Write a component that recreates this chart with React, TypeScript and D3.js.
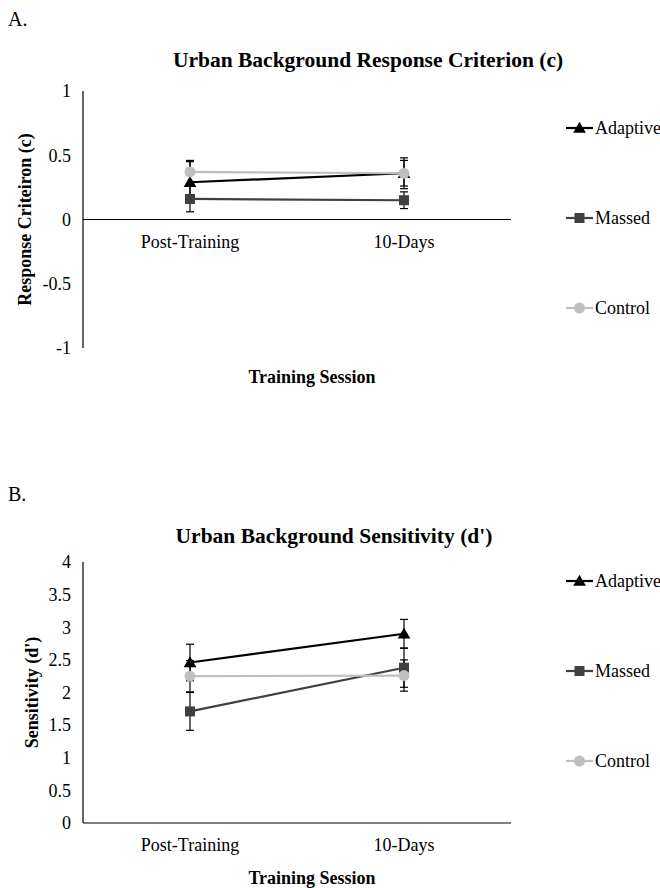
import React from "react";
import * as d3 from "d3";

const sessions = ["Post-Training", "10-Days"];
const seriesNames = ["Adaptive", "Massed", "Control"];
const seriesColors = ["#000000", "#404040", "#bfbfbf"];
const seriesShapes = ["triangle", "square", "circle"];

// Panel A: response criterion
const criterionAdaptive = [0.29, 0.36];
const criterionMassed = [0.16, 0.15];
const criterionControl = [0.37, 0.36];
const criterionAdaptiveErr = [0.16, 0.12];
const criterionMassedErr = [0.1, 0.065];
const criterionControlErr = [0.09, 0.1];
const criterionTicks = [-1, -0.5, 0, 0.5, 1];

// Panel B: sensitivity
const sensAdaptive = [2.46, 2.9];
const sensMassed = [1.71, 2.38];
const sensControl = [2.25, 2.26];
const sensAdaptiveErr = [0.28, 0.22];
const sensMassedErr = [0.29, 0.3];
const sensControlErr = [0.24, 0.24];
const sensTicks = [0, 0.5, 1, 1.5, 2, 2.5, 3, 3.5, 4];

const FONT = "'Liberation Serif', 'Times New Roman', serif";

function Marker({ shape, x, y, color }: { shape: string; x: number; y: number; color: string }) {
  if (shape === "triangle") {
    const s = d3.symbol().type(d3.symbolTriangle).size(70)();
    return <path d={s || ""} transform={`translate(${x},${y + 1})`} fill={color} />;
  }
  if (shape === "square") {
    return <rect x={x - 5} y={y - 5} width={10} height={10} fill={color} />;
  }
  return <circle cx={x} cy={y} r={5.5} fill={color} />;
}

function Panel({
  letter,
  letterY,
  title,
  titleX,
  titleY,
  yLabel,
  yLabelX,
  domain,
  yTop,
  yBottom,
  ticks,
  xAxisValue,
  data,
  errs,
  legendYs,
  catLabelY,
  axisTitleY,
}: any) {
  const x = d3.scalePoint<string>().domain(sessions).range([83, 511]).padding(0.5);
  const y = d3.scaleLinear().domain(domain).range([yBottom, yTop]);
  const line = d3
    .line<number>()
    .x((_, i) => x(sessions[i]) as number)
    .y((d) => y(d));
  const fmt = (v: number) => String(v);
  return (
    <g>
      <text x={8} y={letterY} fontFamily={FONT} fontSize={20}>
        {letter}
      </text>
      <text x={titleX} y={titleY} fontFamily={FONT} fontSize={21.5} fontWeight="bold" textAnchor="middle">
        {title}
      </text>
      {/* y axis */}
      <line x1={83} x2={83} y1={y(domain[1])} y2={y(domain[0])} stroke="#000" strokeWidth={1.2} />
      {ticks.map((t: number) => (
        <text key={t} x={71} y={y(t)} dy="0.35em" fontFamily={FONT} fontSize={18} textAnchor="end">
          {fmt(t)}
        </text>
      ))}
      {/* x axis */}
      <line x1={83} x2={511} y1={y(xAxisValue)} y2={y(xAxisValue)} stroke="#000" strokeWidth={1.2} />
      {sessions.map((s) => (
        <text key={s} x={x(s)} y={catLabelY} dy="0.35em" fontFamily={FONT} fontSize={18} textAnchor="middle">
          {s}
        </text>
      ))}
      <text x={312} y={axisTitleY} dy="0.35em" fontFamily={FONT} fontSize={18} fontWeight="bold" textAnchor="middle">
        Training Session
      </text>
      <text
        transform={`translate(${yLabelX},${(y(domain[0]) + y(domain[1])) / 2}) rotate(-90)`}
        dy="0.35em"
        fontFamily={FONT}
        fontSize={18}
        fontWeight="bold"
        textAnchor="middle"
      >
        {yLabel}
      </text>
      {/* error bars */}
      {data.map((vals: number[], si: number) =>
        vals.map((v: number, i: number) => {
          const cx = x(sessions[i]) as number;
          const e = errs[si][i];
          return (
            <g key={`e${si}-${i}`} stroke="#000" strokeWidth={1.2}>
              <line x1={cx} x2={cx} y1={y(v - e)} y2={y(v + e)} />
              <line x1={cx - 4} x2={cx + 4} y1={y(v - e)} y2={y(v - e)} />
              <line x1={cx - 4} x2={cx + 4} y1={y(v + e)} y2={y(v + e)} />
            </g>
          );
        })
      )}
      {/* lines and markers */}
      {data.map((vals: number[], si: number) => (
        <g key={`s${si}`}>
          <path d={line(vals) || ""} fill="none" stroke={seriesColors[si]} strokeWidth={2.2} />
          {vals.map((v: number, i: number) => (
            <Marker key={i} shape={seriesShapes[si]} x={x(sessions[i]) as number} y={y(v)} color={seriesColors[si]} />
          ))}
        </g>
      ))}
      {/* legend */}
      {seriesNames.map((n, si) => (
        <g key={n}>
          <line x1={566} x2={593} y1={legendYs[si]} y2={legendYs[si]} stroke={seriesColors[si]} strokeWidth={2.2} />
          <Marker shape={seriesShapes[si]} x={579.5} y={legendYs[si]} color={seriesColors[si]} />
          <text x={595} y={legendYs[si]} dy="0.35em" fontFamily={FONT} fontSize={18}>
            {n}
          </text>
        </g>
      ))}
    </g>
  );
}

export default function App() {
  return (
    <svg width={660} height={888} style={{ position: "absolute", left: 0, top: 0, background: "#fff" }}>
      <rect width={660} height={888} fill="#fff" />
      <Panel
        letter="A."
        letterY={26}
        title="Urban Background Response Criterion (c)"
        titleX={368}
        titleY={67}
        yLabel="Response Criteiron (c)"
        yLabelX={25}
        domain={[-1, 1]}
        yTop={91}
        yBottom={348}
        ticks={criterionTicks}
        xAxisValue={0}
        data={[criterionAdaptive, criterionMassed, criterionControl]}
        errs={[criterionAdaptiveErr, criterionMassedErr, criterionControlErr]}
        legendYs={[128, 218, 308]}
        catLabelY={242}
        axisTitleY={377}
      />
      <Panel
        letter="B."
        letterY={501}
        title="Urban Background Sensitivity (d')"
        titleX={334}
        titleY={543}
        yLabel="Sensitivity (d')"
        yLabelX={32}
        domain={[0, 4]}
        yTop={562}
        yBottom={823}
        ticks={sensTicks}
        xAxisValue={0}
        data={[sensAdaptive, sensMassed, sensControl]}
        errs={[sensAdaptiveErr, sensMassedErr, sensControlErr]}
        legendYs={[581, 671, 761]}
        catLabelY={845}
        axisTitleY={878}
      />
    </svg>
  );
}
